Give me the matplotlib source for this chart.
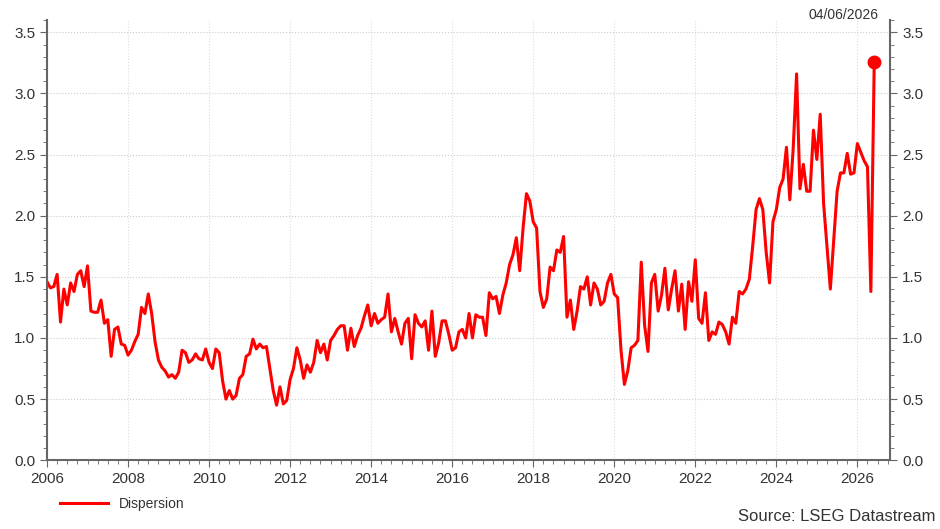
import numpy as np
import matplotlib.pyplot as plt
from matplotlib.ticker import MultipleLocator

plt.rcParams['font.family'] = ['Liberation Sans', 'DejaVu Sans']

# monthly values, Jan 2006 onwards
y2006 = [1.46, 1.41, 1.42, 1.52, 1.13, 1.40, 1.27, 1.45, 1.38, 1.52, 1.55, 1.42]
y2007 = [1.59, 1.22, 1.21, 1.21, 1.31, 1.12, 1.15, 0.85, 1.07, 1.09, 0.95, 0.94]
y2008 = [0.86, 0.90, 0.97, 1.03, 1.25, 1.20, 1.36, 1.20, 0.97, 0.82, 0.76, 0.73]
y2009 = [0.68, 0.70, 0.67, 0.72, 0.90, 0.88, 0.80, 0.82, 0.87, 0.83, 0.82, 0.91]
y2010 = [0.80, 0.75, 0.91, 0.88, 0.65, 0.50, 0.57, 0.50, 0.53, 0.67, 0.70, 0.85]
y2011 = [0.87, 0.99, 0.91, 0.95, 0.92, 0.93, 0.75, 0.57, 0.45, 0.60, 0.46, 0.49]
y2012 = [0.66, 0.75, 0.92, 0.82, 0.67, 0.78, 0.72, 0.80, 0.98, 0.88, 0.95, 0.82]
y2013 = [0.98, 1.02, 1.07, 1.10, 1.10, 0.90, 1.08, 0.93, 1.02, 1.08, 1.18, 1.27]
y2014 = [1.10, 1.20, 1.12, 1.15, 1.17, 1.36, 1.05, 1.16, 1.05, 0.95, 1.12, 1.16]
y2015 = [0.83, 1.19, 1.12, 1.09, 1.14, 0.90, 1.22, 0.85, 0.96, 1.14, 1.14, 1.03]
y2016 = [0.90, 0.92, 1.05, 1.07, 1.00, 1.20, 1.00, 1.19, 1.17, 1.17, 1.02, 1.37]
y2017 = [1.32, 1.34, 1.20, 1.35, 1.45, 1.60, 1.68, 1.82, 1.55, 1.90, 2.18, 2.12]
y2018 = [1.95, 1.90, 1.38, 1.25, 1.32, 1.58, 1.55, 1.72, 1.70, 1.83, 1.17, 1.31]
y2019 = [1.07, 1.22, 1.42, 1.40, 1.50, 1.27, 1.45, 1.40, 1.27, 1.30, 1.45, 1.52]
y2020 = [1.36, 1.33, 0.90, 0.62, 0.73, 0.92, 0.94, 0.98, 1.62, 1.10, 0.89, 1.45]
y2021 = [1.52, 1.22, 1.35, 1.57, 1.23, 1.40, 1.55, 1.22, 1.44, 1.07, 1.46, 1.30]
y2022 = [1.64, 1.16, 1.12, 1.37, 0.98, 1.05, 1.03, 1.13, 1.11, 1.05, 0.95, 1.17]
y2023 = [1.12, 1.38, 1.36, 1.40, 1.48, 1.75, 2.05, 2.14, 2.05, 1.70, 1.45, 1.95]
y2024 = [2.05, 2.23, 2.30, 2.56, 2.13, 2.55, 3.16, 2.22, 2.42, 2.20, 2.20, 2.70]
y2025 = [2.46, 2.83, 2.10, 1.75, 1.40, 1.80, 2.20, 2.35, 2.35, 2.51, 2.34, 2.35]
y2026 = [2.59, 2.52, 2.45, 2.40, 1.38, 3.26]

values = (y2006 + y2007 + y2008 + y2009 + y2010 + y2011 + y2012 + y2013 + y2014
          + y2015 + y2016 + y2017 + y2018 + y2019 + y2020 + y2021 + y2022
          + y2023 + y2024 + y2025 + y2026)
dates = 2006 + np.arange(len(values)) / 12.0

fig = plt.figure(figsize=(9.4, 5.29), dpi=100)
ax = fig.add_axes([0.05, 0.13, 0.897, 0.832])

ax.plot(dates, values, color='#ff0000', lw=2.2, label='Dispersion')
ax.plot(dates[-1], values[-1], 'o', color='#ff0000', ms=9)

ax.set_xlim(2006, 2026.81)
ax.set_ylim(0, 3.6)
ax.xaxis.set_major_locator(MultipleLocator(2))
ax.xaxis.set_minor_locator(MultipleLocator(0.25))
ax.yaxis.set_major_locator(MultipleLocator(0.5))
ax.yaxis.set_minor_locator(MultipleLocator(0.1))
ax.yaxis.set_major_formatter(lambda v, p: f"{v:.1f}")
ax.grid(True, which='major', color='#cccccc', ls=':', lw=0.8)
ax.grid(True, which='major', axis='x', color='#dddddd', ls=':', lw=0.8)

for s in ['top']:
    ax.spines[s].set_visible(False)
for s in ['left', 'right', 'bottom']:
    ax.spines[s].set_color('#666666')
    ax.spines[s].set_linewidth(1.5)

ax.tick_params(axis='both', which='both', color='#666666', labelsize=11, labelcolor='#333333')
ax.tick_params(axis='y', which='both', left=True, right=True, labelright=True, direction='out')
ax.tick_params(which='major', length=5)
ax.tick_params(which='minor', length=3)

fig.text(0.935, 0.985, '04/06/2026', ha='right', va='top', fontsize=10, color='#333333')
fig.text(0.995, 0.01, 'Source: LSEG Datastream', ha='right', va='bottom', fontsize=12, color='#333333')
ax.legend(loc='upper left', bbox_to_anchor=(0.0, -0.055), frameon=False, fontsize=10,
          handlelength=3.5, labelcolor='#333333')

fig.savefig('out.png', dpi=100)
